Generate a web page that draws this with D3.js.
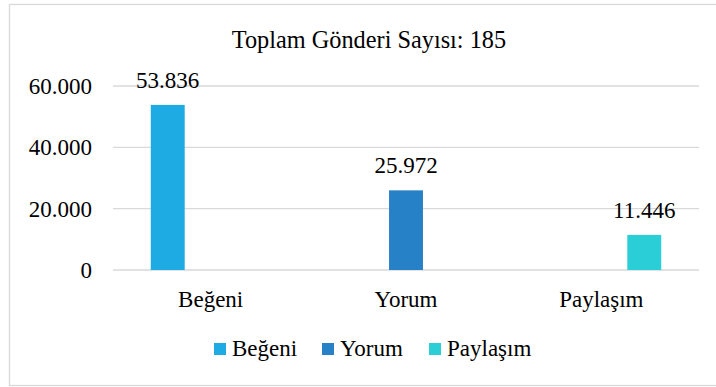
<!DOCTYPE html>
<html>
<head>
<meta charset="utf-8">
<script src="https://cdn.jsdelivr.net/npm/d3@7"></script>
<style>
  html, body { margin: 0; padding: 0; background: #fff; }
  svg { display: block; }
  text { font-family: "Liberation Serif", "Times New Roman", serif; fill: #000; }
</style>
</head>
<body>
<svg id="chart" width="716" height="387"></svg>
<script>
// Chart data
const title = "Toplam Gönderi Sayısı: 185";
const categories = ["Beğeni", "Yorum", "Paylaşım"];
const seriesNames = ["Beğeni", "Yorum", "Paylaşım"];
const seriesColors = ["#1EABE3", "#2781C6", "#2ACED7"];
// value of each series per category (null = no bar)
const begeniValues   = [53836, null, null];
const yorumValues    = [null, 25972, null];
const paylasimValues = [null, null, 11446];
const yTicks = [0, 20000, 40000, 60000];

const seriesValues = [begeniValues, yorumValues, paylasimValues];
const fmt = v => d3.format(",")(v).replace(/,/g, ".");

const svg = d3.select("#chart");
const plot = { left: 113, right: 699, top: 86, bottom: 270 };
const serif = '"Liberation Serif", "Times New Roman", serif';

// Outer frame
svg.append("rect")
  .attr("x", 9.5).attr("y", 4.5)
  .attr("width", 740).attr("height", 381)
  .attr("fill", "#fff").attr("stroke", "#d9d9d9").attr("stroke-width", 1.3);

// Title
svg.append("text")
  .attr("x", 369).attr("y", 47.5)
  .attr("text-anchor", "middle")
  .style("font-size", "24.3px")
  .text(title);

// Scales
const x0 = d3.scaleBand().domain(categories).range([plot.left, plot.right]).padding(0);
const x1 = d3.scaleBand().domain(seriesNames).range([0, x0.bandwidth()])
  .paddingInner(0.21).paddingOuter(0.88);
const y = d3.scaleLinear().domain([0, 60000]).range([plot.bottom, plot.top]);

// Gridlines
svg.append("g").selectAll("line").data(yTicks).join("line")
  .attr("x1", plot.left).attr("x2", plot.right)
  .attr("y1", d => y(d)).attr("y2", d => y(d))
  .attr("stroke", "#d9d9d9").attr("stroke-width", 1.3);

// Y axis labels
const yAxis = d3.axisLeft(y).tickValues(yTicks).tickFormat(fmt).tickSize(0).tickPadding(0);
const yg = svg.append("g").attr("transform", "translate(92,0)").call(yAxis);
yg.attr("font-family", serif);
yg.select(".domain").remove();
yg.selectAll("text")
  .style("font-family", serif)
  .style("font-size", "23px").attr("fill", "#000")
  .attr("dy", "0.33em");

// Category labels
const xAxis = d3.axisBottom(x0).tickSize(0).tickPadding(0);
const xg = svg.append("g").attr("transform", `translate(0,${plot.bottom})`).call(xAxis);
xg.attr("font-family", serif);
xg.select(".domain").remove();
xg.selectAll("text")
  .style("font-family", serif)
  .style("font-size", "23px").attr("fill", "#000")
  .attr("dy", null).attr("y", 36.5);

// Bars and value labels
const bars = [];
seriesValues.forEach((vals, si) => {
  vals.forEach((v, ci) => {
    if (v != null) bars.push({ series: seriesNames[si], cat: categories[ci], value: v, color: seriesColors[si] });
  });
});

const bg = svg.append("g");
bg.selectAll("rect").data(bars).join("rect")
  .attr("x", d => x0(d.cat) + x1(d.series))
  .attr("width", x1.bandwidth())
  .attr("y", d => y(d.value))
  .attr("height", d => y(0) - y(d.value))
  .attr("fill", d => d.color);

bg.selectAll("text").data(bars).join("text")
  .attr("x", d => x0(d.cat) + x1(d.series) + x1.bandwidth() / 2)
  .attr("y", d => y(d.value) - 17)
  .attr("text-anchor", "middle")
  .style("font-size", "23px")
  .text(d => fmt(d.value));

// Legend
const legendX = [214, 322, 429];
const lg = svg.append("g");
seriesNames.forEach((name, i) => {
  lg.append("rect")
    .attr("x", legendX[i]).attr("y", 343)
    .attr("width", 12).attr("height", 12)
    .attr("fill", seriesColors[i]);
  lg.append("text")
    .attr("x", legendX[i] + 18).attr("y", 356)
    .style("font-size", "23px")
    .text(name);
});
</script>
</body>
</html>
